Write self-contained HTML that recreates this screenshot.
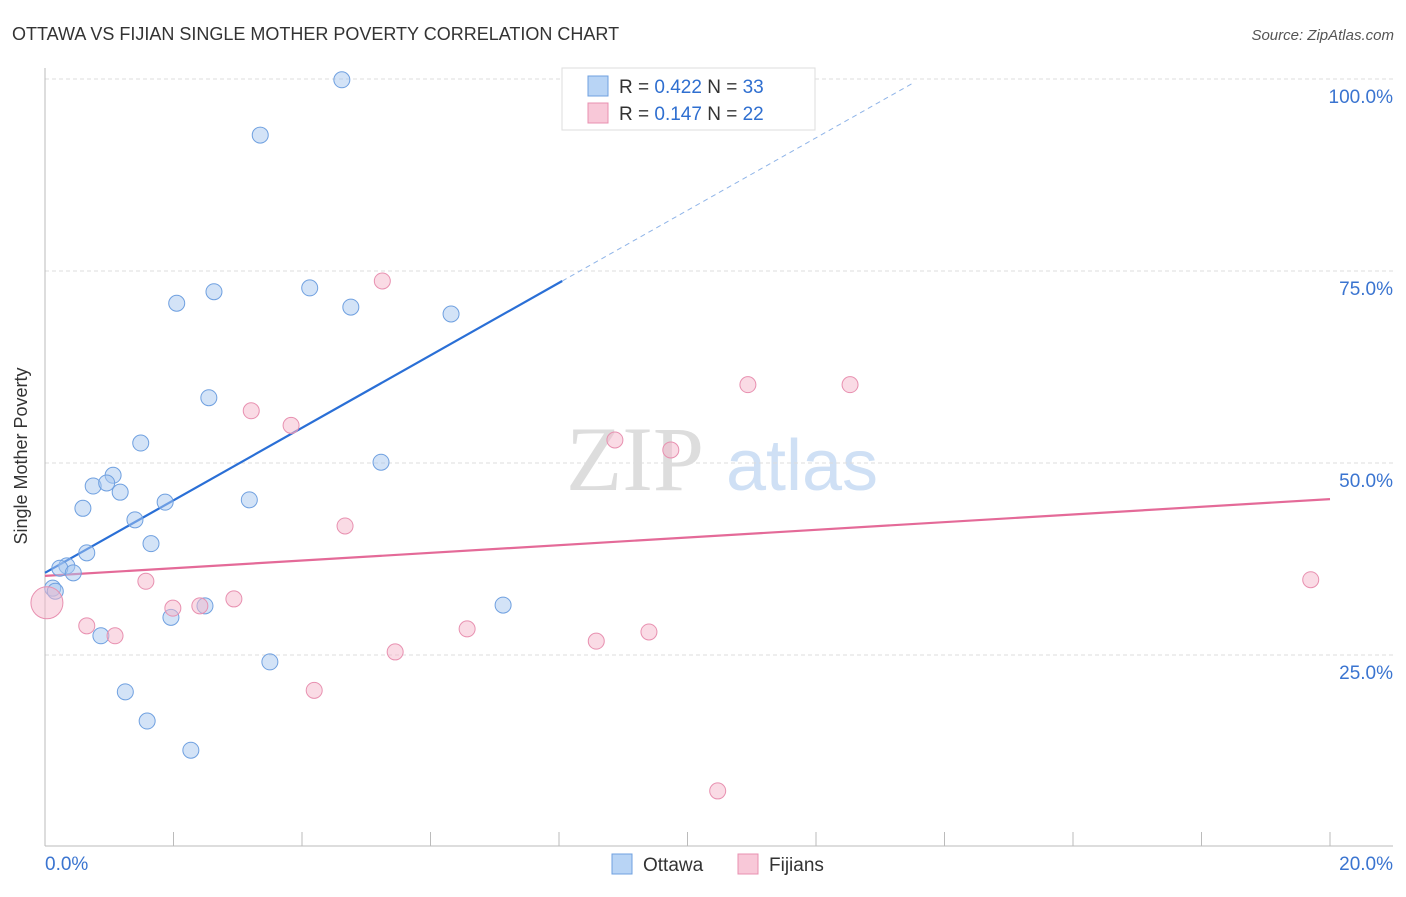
<!DOCTYPE html>
<html><head><meta charset="utf-8"><style>
body{margin:0;background:#fff;font-family:"Liberation Sans",sans-serif}
</style></head><body>
<svg width="1406" height="892" xmlns="http://www.w3.org/2000/svg" font-family="Liberation Sans, sans-serif">
<text x="12" y="40" font-size="18" fill="#333">OTTAWA VS FIJIAN SINGLE MOTHER POVERTY CORRELATION CHART</text>
<text x="1394" y="40" font-size="15" fill="#555" text-anchor="end" font-style="italic">Source: ZipAtlas.com</text>
<text x="27" y="456" font-size="18" fill="#333" text-anchor="middle" transform="rotate(-90 27 456)">Single Mother Poverty</text>
<g><text x="635" y="490" font-size="92" fill="#ddd" font-family="Liberation Serif, serif" text-anchor="middle">ZIP</text><text x="802" y="490" font-size="72" fill="#cfe0f5" text-anchor="middle">atlas</text></g>
<g id="grid"></g><g id="axes"></g><g id="trend"></g><g id="pts"></g>
<g>
<rect x="562" y="68" width="253" height="62" fill="#fff" stroke="#ddd"/>
<rect x="588" y="76" width="20" height="20" fill="#b8d4f5" stroke="#6fa0e0"/>
<rect x="588" y="103" width="20" height="20" fill="#f8c8d8" stroke="#e890b0"/>
<text x="619" y="93" font-size="19" fill="#333">R = <tspan fill="#2f6fd0">0.422</tspan>   N = <tspan fill="#2f6fd0">33</tspan></text>
<text x="619" y="120" font-size="19" fill="#333">R =  <tspan fill="#2f6fd0">0.147</tspan>   N = <tspan fill="#2f6fd0">22</tspan></text>
</g>
<g>
<rect x="612" y="854" width="20" height="20" fill="#b8d4f5" stroke="#6fa0e0"/><text x="643" y="871" font-size="19" fill="#333">Ottawa</text>
<rect x="738" y="854" width="20" height="20" fill="#f8c8d8" stroke="#e890b0"/><text x="769" y="871" font-size="19" fill="#333">Fijians</text>
</g>
</svg>
<script>
const ottawaX=[4.62,3.35,2.05,2.63,4.12,4.76,6.32,2.55,1.49,5.23,1.06,0.75,0.96,1.17,1.87,3.18,0.59,1.40,1.65,0.65,0.34,0.23,0.44,0.12,0.16,2.49,1.96,7.13,0.87,3.50,1.25,1.59,2.27];
const ottawaY=[99.9,92.7,70.8,72.3,72.8,70.3,69.4,58.5,52.6,50.1,48.4,47.0,47.4,46.2,44.9,45.2,44.1,42.6,39.5,38.3,36.6,36.3,35.7,33.7,33.3,31.4,29.9,31.5,27.5,24.1,20.2,16.4,12.6];
const fijiX=[5.25,3.21,3.83,8.87,9.74,10.94,12.53,4.67,1.57,19.70,2.94,1.99,2.41,0.65,1.09,6.57,9.40,8.58,5.45,4.19,10.47,0.03];
const fijiY=[73.7,56.8,54.9,53.0,51.7,60.2,60.2,41.8,34.6,34.8,32.3,31.1,31.4,28.8,27.5,28.4,28.0,26.8,25.4,20.4,7.3,31.8];
const fijiR=[8,8,8,8,8,8,8,8,8,8,8,8,8,8,8,8,8,8,8,8,8,16];
const yTicks=[25,50,75,100];
const xTicks=[0,2,4,6,8,10,12,14,16,18,20];
const blueTrend=[35.7,4.72]; const pinkTrend=[35.3,0.5];
const NS='http://www.w3.org/2000/svg';
const sx=v=>45+v/20*1285, sy=v=>847-v*7.68;
function mk(p,t,a){const e=document.createElementNS(NS,t);for(const k in a)e.setAttribute(k,a[k]);document.getElementById(p).appendChild(e);return e;}
yTicks.forEach(t=>{
 const l=mk('grid','line',{x1:45,x2:1393,y1:sy(t),y2:sy(t),stroke:'#ddd','stroke-dasharray':'4,3'});
 
 
 const tx=mk('grid','text',{x:1393,y:sy(t)+24,'font-size':19,fill:'#3a74d0','text-anchor':'end'});tx.textContent=t.toFixed(1)+'%';
 
 
});
mk('axes','line',{x1:45,x2:45,y1:68,y2:846,stroke:'#bbb'});
mk('axes','line',{x1:45,x2:1393,y1:846,y2:846,stroke:'#bbb'});
xTicks.forEach(t=>{const l=mk('axes','line',{x1:sx(t),x2:sx(t),y1:832,y2:846,stroke:'#bbb'});
 
 });
[[0,'start',45],[20,'end',1393]].forEach(([v,a,x])=>{const tx=mk('axes','text',{x:x,y:870,'font-size':19,fill:'#3a74d0','text-anchor':a});tx.textContent=v.toFixed(1)+'%';
 
 });
const bEnd=8.05, bDash=13.54;
let t1=mk('trend','line',{x1:sx(0),y1:sy(blueTrend[0]),x2:sx(bEnd),y2:sy(blueTrend[0]+blueTrend[1]*bEnd),stroke:'#2a6fd6','stroke-width':2.2});


let t2=mk('trend','line',{x1:sx(bEnd),y1:sy(blueTrend[0]+blueTrend[1]*bEnd),x2:sx(bDash),y2:sy(blueTrend[0]+blueTrend[1]*bDash),stroke:'#8fb4e8','stroke-width':1,'stroke-dasharray':'5,4'});


let t3=mk('trend','line',{x1:sx(0),y1:sy(pinkTrend[0]),x2:sx(20),y2:sy(pinkTrend[0]+pinkTrend[1]*20),stroke:'#e46a98','stroke-width':2.2});


ottawaX.forEach((x,i)=>{const c=mk('pts','circle',{cx:sx(x),cy:sy(ottawaY[i]),r:8,fill:'rgba(168,200,240,0.5)',stroke:'#6fa0e0','stroke-width':1});
 
 });
fijiX.forEach((x,i)=>{const c=mk('pts','circle',{cx:sx(x),cy:sy(fijiY[i]),r:fijiR[i],fill:'rgba(245,184,204,0.5)',stroke:'#e890b0','stroke-width':1});
 
 });
</script>
</body></html>
